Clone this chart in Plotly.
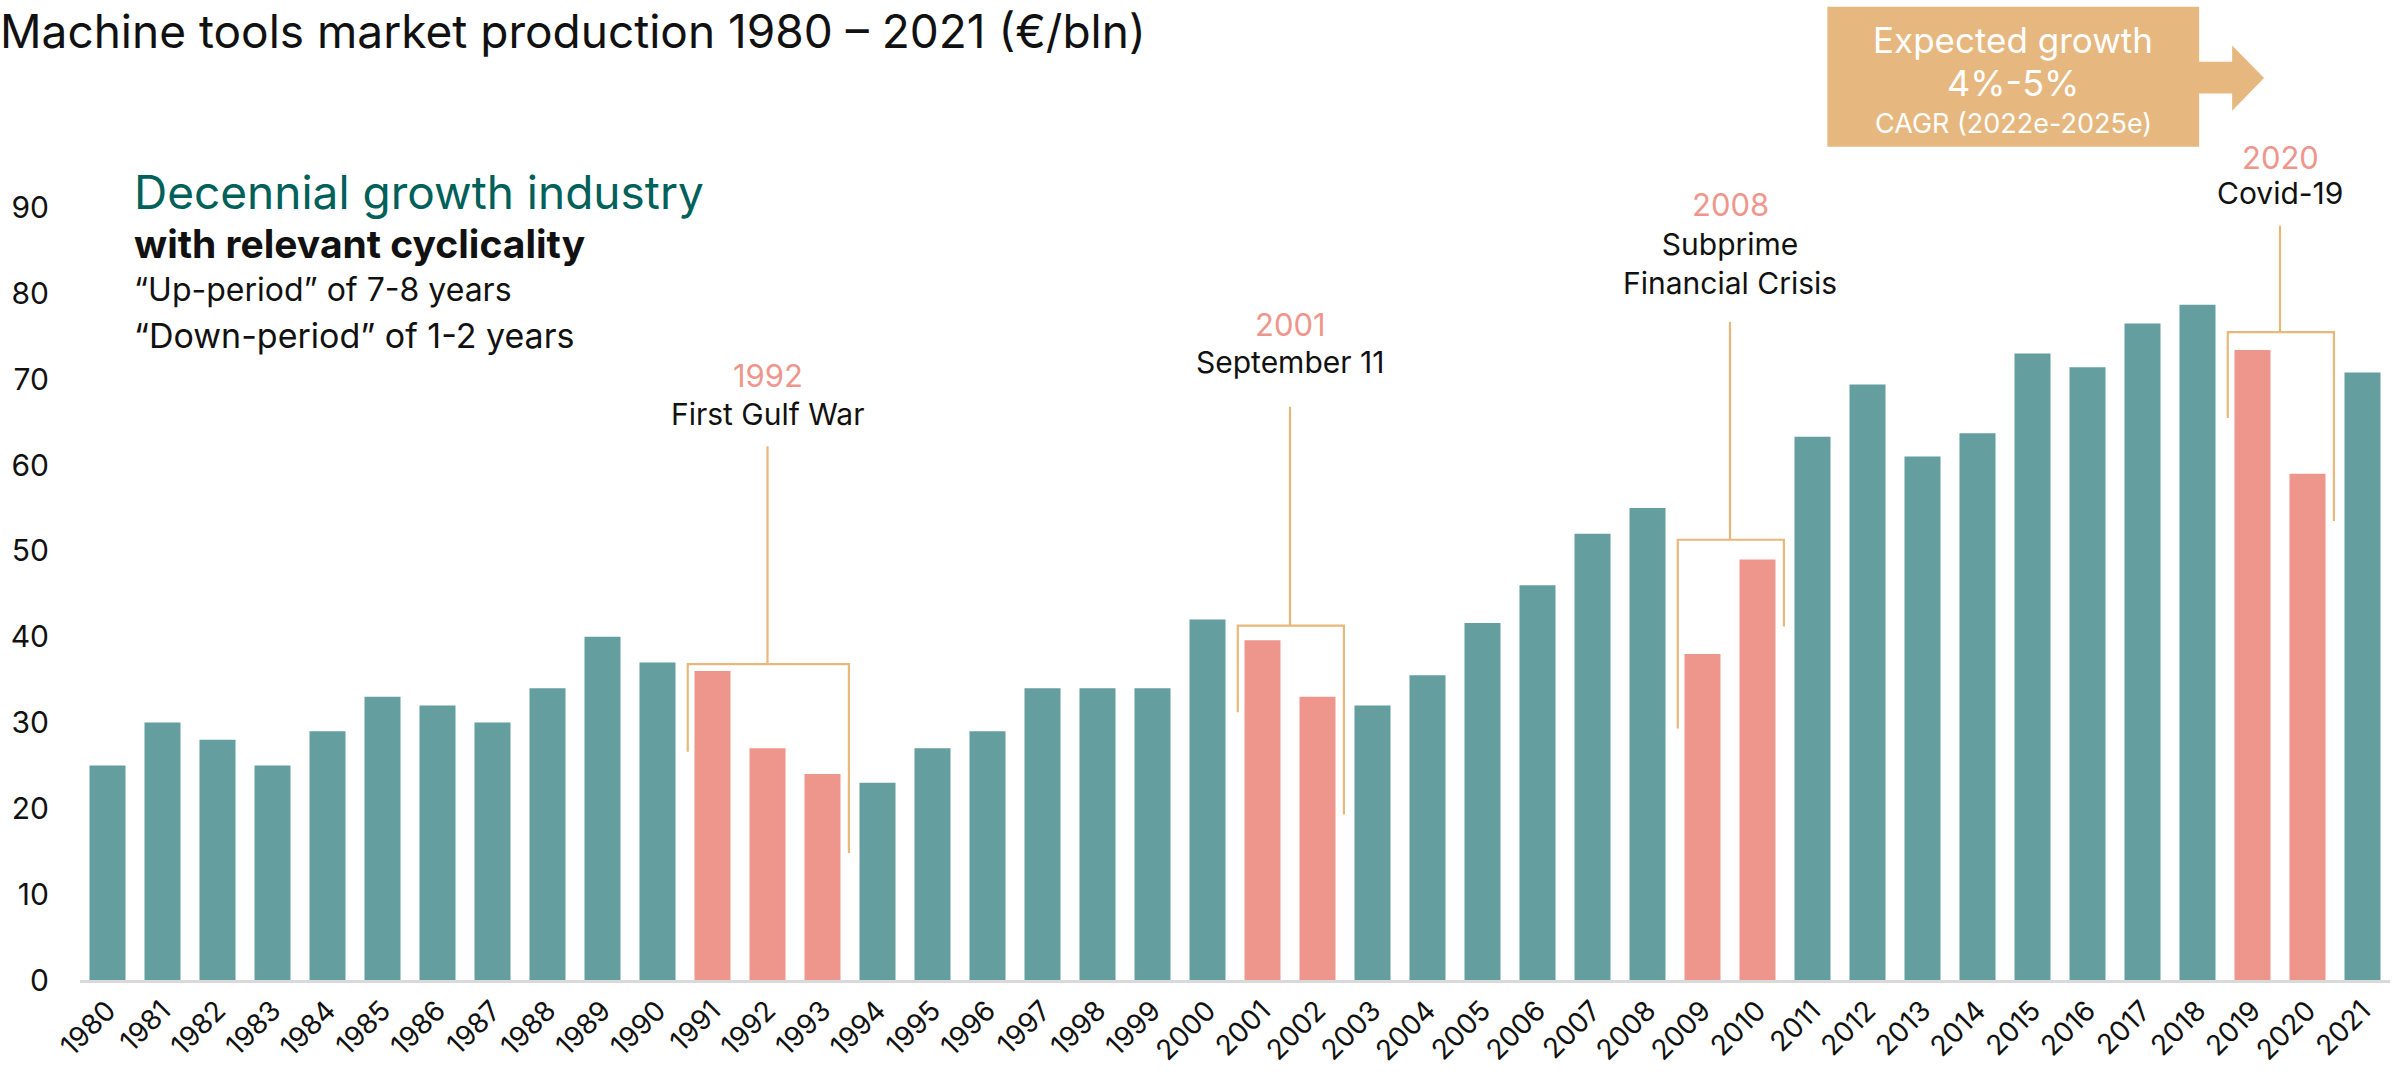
import plotly.graph_objects as go

# ---------------- data ----------------
years = list(range(1980, 2022))
production = [25, 30, 28, 25, 29, 33, 32, 30, 34, 40,
              37, 36, 27, 24, 23, 27, 29, 34, 34, 34,
              42, 39.6, 33, 32, 35.5, 41.6, 46, 52, 55, 38,
              49, 63.3, 69.4, 61, 63.7, 73, 71.4, 76.5, 78.7, 73.4,
              59, 70.8]
down_years = [1991, 1992, 1993, 2001, 2002, 2009, 2010, 2019, 2020]
y_ticks = [0, 10, 20, 30, 40, 50, 60, 70, 80, 90]

# crisis events
event_years = ["1992", "2001", "2008", "2020"]
event_names = ["First Gulf War", "September 11", "Subprime<br>Financial Crisis", "Covid-19"]
event_first = [1991, 2001, 2009, 2019]
event_last = [1993, 2002, 2010, 2020]
bracket_top = [36.8, 41.3, 51.3, 75.5]
bracket_left_end = [26.6, 31.2, 29.3, 65.5]
bracket_right_end = [14.8, 19.3, 41.2, 53.5]
stem_top = [62.2, 66.8, 76.7, 87.9]

TEAL = "#649e9f"
PINK = "#ee968c"
GOLD = "#e8b77a"
BOX = "#e6b87f"
FONT = "Inter"

colors = [PINK if y in down_years else TEAL for y in years]

fig = go.Figure()
fig.add_trace(go.Bar(x=years, y=production, marker=dict(color=colors, line=dict(width=0)),
                     width=0.655, hoverinfo="x+y"))

shapes = []
annotations = []
for i in range(len(event_years)):
    xl = event_first[i] - 0.45
    xr = event_last[i] + 0.48
    xc = (event_first[i] + event_last[i]) / 2.0
    line = dict(color=GOLD, width=2.2)
    shapes.append(dict(type="path", xref="x", yref="y", line=line,
                       path=f"M {xl},{bracket_left_end[i]} L {xl},{bracket_top[i]} L {xr},{bracket_top[i]} L {xr},{bracket_right_end[i]}"))
    shapes.append(dict(type="line", xref="x", yref="y", line=line,
                       x0=xc, x1=xc, y0=bracket_top[i], y1=stem_top[i]))

label_year_y = [70.5, 76.4, 90.4, 95.9]
label_name_y = [65.9, 72.0, 83.5, 91.7]
for i in range(len(event_years)):
    xc = (event_first[i] + event_last[i]) / 2.0
    annotations.append(dict(x=xc, y=label_year_y[i], xref="x", yref="y", text=event_years[i],
                            showarrow=False, font=dict(family=FONT, size=31, color=PINK),
                            xanchor="center", yanchor="middle"))
    annotations.append(dict(x=xc, y=label_name_y[i], xref="x", yref="y", text=event_names[i],
                            showarrow=False, font=dict(family=FONT, size=30, color="#111111"),
                            xanchor="center", yanchor="middle"))

# left text block
annotations += [
    dict(x=1980.44, y=91.8, xref="x", yref="y", text="Decennial growth industry", showarrow=False,
         xanchor="left", yanchor="middle", font=dict(family=FONT, size=46, color="#00605a")),
    dict(x=1980.44, y=85.8, xref="x", yref="y", text="<b>with relevant cyclicality</b>", showarrow=False,
         xanchor="left", yanchor="middle", font=dict(family=FONT, size=39, color="#111111")),
    dict(x=1980.44, y=80.5, xref="x", yref="y", text="“Up-period” of 7-8 years", showarrow=False,
         xanchor="left", yanchor="middle", font=dict(family=FONT, size=32, color="#111111")),
    dict(x=1980.44, y=75.1, xref="x", yref="y", text="“Down-period” of 1-2 years", showarrow=False,
         xanchor="left", yanchor="middle", font=dict(family=FONT, size=34, color="#111111")),
]

# expected growth box with arrow
shapes.append(dict(type="rect", xref="x", yref="y", x0=2011.27, x1=2018.03, y0=97.1, y1=113.4,
                   fillcolor=BOX, line=dict(width=0), layer="above"))
shapes.append(dict(type="path", xref="x", yref="y", fillcolor=BOX, line=dict(width=0), layer="above",
                   path="M 2018.0,107.0 L 2018.63,107.0 L 2018.63,108.9 L 2019.21,105.1 "
                        "L 2018.63,101.3 L 2018.63,103.3 L 2018.0,103.3 Z"))
annotations += [
    dict(x=2014.65, y=109.5, xref="x", yref="y", text="Expected growth", showarrow=False,
         font=dict(family=FONT, size=35, color="white"), xanchor="center", yanchor="middle"),
    dict(x=2014.65, y=104.5, xref="x", yref="y", text="4%-5%", showarrow=False,
         font=dict(family=FONT, size=36, color="white"), xanchor="center", yanchor="middle"),
    dict(x=2014.65, y=99.8, xref="x", yref="y", text="CAGR (2022e-2025e)", showarrow=False,
         font=dict(family=FONT, size=27, color="white"), xanchor="center", yanchor="middle"),
]

fig.update_layout(
    width=2397, height=1077,
    margin=dict(l=80, r=7, t=0, b=97, autoexpand=False),
    paper_bgcolor="white", plot_bgcolor="white",
    showlegend=False,
    title=dict(text="Machine tools market production 1980 – 2021 (€/bln)",
               x=0, xref="container", xanchor="left", pad=dict(l=0, r=0, t=0, b=0),
               y=1 - 32 / 1077, yref="container", yanchor="middle",
               font=dict(family=FONT, size=46, color="#111111")),
    shapes=shapes,
    annotations=annotations,
    xaxis=dict(range=[1979.5, 2021.5], tickmode="array", tickvals=years,
               ticktext=[str(y) for y in years], tickangle=-45,
               tickfont=dict(family=FONT, size=28, color="#111111"),
               showgrid=False, zeroline=False, showline=True, linecolor="#d9d9d9", linewidth=3,
               ticks="", automargin=False),
    yaxis=dict(range=[0, 114.2], tickmode="array", tickvals=y_ticks,
               tickfont=dict(family=FONT, size=30, color="#111111"),
               showgrid=False, zeroline=False, showline=False, ticks="",
               ticklabelstandoff=30, automargin=False),
)

fig.write_html("out.html", config={"displayModeBar": False},
               post_script="document.body.style.margin='0';document.body.style.overflow='hidden';")
